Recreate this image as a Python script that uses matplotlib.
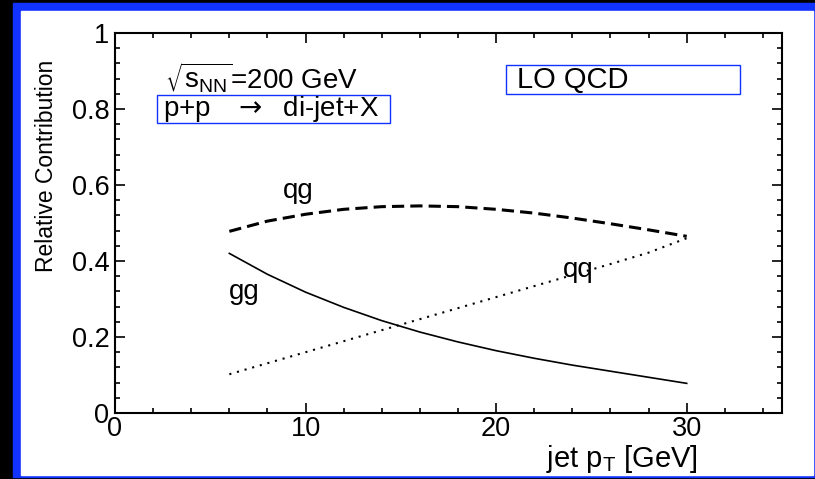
import numpy as np
import matplotlib.pyplot as plt
from matplotlib.patches import Rectangle
from matplotlib.ticker import MultipleLocator, FormatStrFormatter

plt.rcParams['font.family'] = ['Liberation Sans', 'DejaVu Sans']
plt.rcParams['mathtext.fontset'] = 'dejavusans'

# Relative contributions of the LO subprocesses vs jet pT
pt = [6, 8, 10, 12, 14, 16, 18, 20, 22, 24, 26, 28, 30]
qg = [0.478, 0.505, 0.523, 0.536, 0.543, 0.545, 0.543, 0.536, 0.526, 0.513, 0.498, 0.482, 0.465]
gg = [0.420, 0.365, 0.318, 0.278, 0.243, 0.213, 0.187, 0.164, 0.144, 0.126, 0.110, 0.094, 0.078]
qq = [0.102, 0.131, 0.160, 0.189, 0.218, 0.247, 0.276, 0.305, 0.334, 0.363, 0.392, 0.422, 0.460]

blue = '#1232ff'

fig = plt.figure(figsize=(8.15, 4.79), dpi=100, facecolor='black')
# slide frame: blue border around a white panel
fig.add_artist(Rectangle((13 / 815, 2 / 479), 1 - 13 / 815, 474 / 479,
                         transform=fig.transFigure, color=blue, zorder=-5))
fig.add_artist(Rectangle((21 / 815, 4 / 479), 792 / 815, 464 / 479,
                         transform=fig.transFigure, color='white', zorder=-4))

ax = fig.add_axes([115 / 815, 66 / 479, 667 / 815, 380 / 479])
ax.set_facecolor('white')

ax.plot(pt, qg, color='black', lw=2.2, linestyle=(0, (4, 2)))
ax.plot(pt, gg, color='black', lw=1.2)
ax.plot(pt, qq, color='black', lw=1.5, linestyle=(0, (1, 2.8)))

ax.text(9.6, 0.584, 'qg', fontsize=20, ha='center', va='center')
ax.text(6.8, 0.318, 'gg', fontsize=20, ha='center', va='center')
ax.text(24.3, 0.376, 'qq', fontsize=20, ha='center', va='center')

ax.set_xlim(0, 35)
ax.set_ylim(0, 1)
ax.xaxis.set_major_locator(MultipleLocator(10))
ax.xaxis.set_minor_locator(MultipleLocator(2))
ax.yaxis.set_major_locator(MultipleLocator(0.2))
ax.yaxis.set_minor_locator(MultipleLocator(0.04))
ax.xaxis.set_major_formatter(FormatStrFormatter('%g'))
ax.yaxis.set_major_formatter(FormatStrFormatter('%g'))
ax.tick_params(which='both', direction='in', top=True, right=True,
               width=1.2, labelsize=19.5, color='black')
ax.tick_params(axis='y', which='major', pad=4)
ax.tick_params(axis='x', which='major', pad=2)
ax.tick_params(which='major', length=7)
ax.tick_params(which='minor', length=3.5)
for s in ax.spines.values():
    s.set_linewidth(1.5)

ax.set_ylabel('Relative Contribution', fontsize=16.5)
ax.yaxis.set_label_coords(-0.085, 0.65)
ax.set_xlabel('jet p$_\\mathregular{T}$ [GeV]', fontsize=21, ha='right', va='center')
ax.xaxis.set_label_coords(0.873, -0.12)

# annotation boxes
ax.text(2.6, 0.885, '$\\sqrt{\\mathregular{s_{NN}}}$=200 GeV', fontsize=20,
        ha='left', va='center')
ax.add_patch(Rectangle((2.2, 0.763), 12.23, 0.074, fill=False, edgecolor=blue, lw=1))
ax.text(2.5, 0.800, 'p+p   $\\rightarrow$  di-jet+X', fontsize=20, ha='left', va='center')
ax.add_patch(Rectangle((20.5, 0.839), 12.3, 0.077, fill=False, edgecolor=blue, lw=1))
ax.text(21.1, 0.877, 'LO QCD', fontsize=21, ha='left', va='center')

fig.savefig('out.png', dpi=100, facecolor=fig.get_facecolor())
